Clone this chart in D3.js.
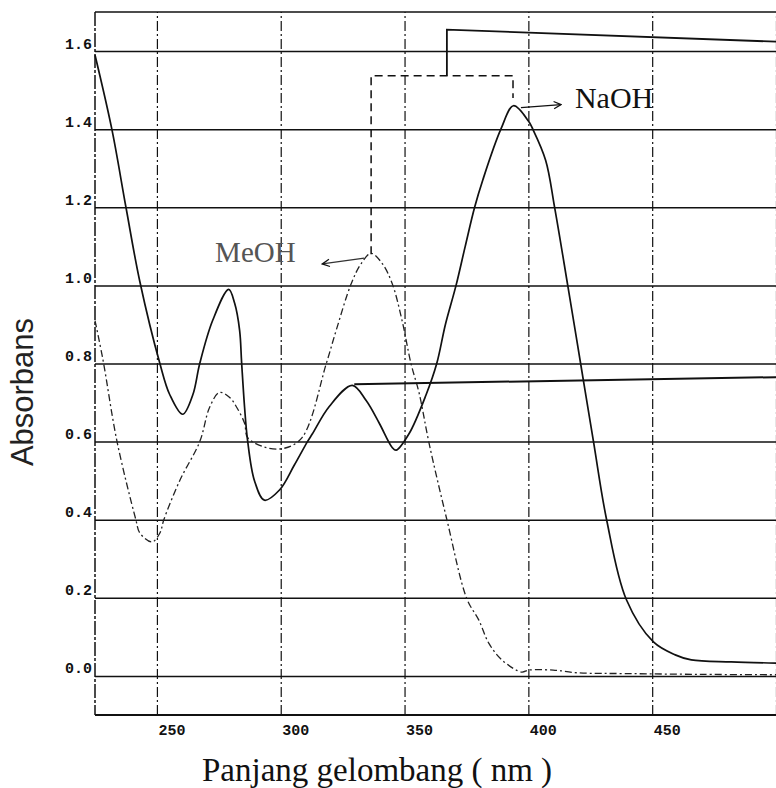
<!DOCTYPE html>
<html>
<head>
<meta charset="utf-8">
<script src="https://cdn.jsdelivr.net/npm/d3@7/dist/d3.min.js"></script>
<style>
  body { margin: 0; background: #fff; }
  svg { display: block; }
  .tick text { font-family: "Liberation Mono", "DejaVu Sans Mono", monospace; font-weight: bold; font-size: 15px; fill: #111; }
</style>
</head>
<body>
<div id="chart"></div>
<script>
// spectrum: wavelength (nm) and absorbance
const naohWave = [225, 231.8, 237.5, 243.1, 251.2, 255.2, 260.4, 264.5, 267.3, 272.5, 279, 281.4, 283.4, 284.2, 285.4, 286.6,
    289.4, 293.4, 299.5, 305.5, 310.8, 312.8, 319.6, 328.9, 334.5, 339.8, 345, 346.6, 351.8, 358.7, 363, 366.5, 370.8,
    374.5, 378.3, 381.6, 388.9, 394, 400.1, 401.8, 407, 410.6, 415.9, 421.1, 426.3, 431.6, 439.6, 450.5, 459.3, 465.8, 481.9, 500];
const naohAbs = [1.59, 1.40, 1.20, 1.01, 0.80, 0.72, 0.67, 0.72, 0.80, 0.91, 0.99, 0.954, 0.885, 0.803, 0.688, 0.604,
    0.50, 0.45, 0.476, 0.54, 0.60, 0.62, 0.69, 0.744, 0.705, 0.647, 0.585, 0.578, 0.62, 0.72, 0.80, 0.90, 1.00,
    1.10, 1.20, 1.27, 1.40, 1.46, 1.42, 1.40, 1.32, 1.20, 1.00, 0.80, 0.60, 0.40, 0.195, 0.087, 0.054, 0.041, 0.036, 0.033];

const meohWave = [225, 228.2, 233.9, 241.5, 243.1, 248, 251.2, 252.8, 259.2, 267.3, 271.3, 275.3, 279.4, 282.2, 285.4, 286.6,
    293.4, 301.5, 308.7, 318.4, 322.4, 328.5, 332.5, 336.5, 341, 345, 349, 352.6, 355.9, 359.9, 367.1, 375.2,
    380, 384, 389.3, 397.3, 400.1, 410, 420, 440, 470, 500];
const meohAbs = [0.91, 0.81, 0.60, 0.40, 0.366, 0.343, 0.366, 0.40, 0.50, 0.60, 0.688, 0.726, 0.713, 0.688, 0.647, 0.611,
    0.586, 0.583, 0.611, 0.80, 0.885, 1.005, 1.056, 1.082, 1.056, 1.005, 0.91, 0.80, 0.724, 0.596, 0.40, 0.197,
    0.143, 0.084, 0.041, 0.010, 0.015, 0.015, 0.008, 0.006, 0.004, 0.003];

// ticks
const yTicks = [0.0, 0.2, 0.4, 0.6, 0.8, 1.0, 1.2, 1.4, 1.6];
const xGrid = [250, 300, 350, 400, 450, 500];
const xLabels = [250, 300, 350, 400, 450];

// annotation strokes drawn on the scan (nm, absorbance)
const bracketDashed = [[336.5, 1.08], [336.5, 1.537], [393.8, 1.537], [393.8, 1.48]];
const bracketStem = [[367.1, 1.537], [367.1, 1.655], [500, 1.624]];
const shoulderLead = [[329.7, 0.747], [500, 0.765]];
const naohArrow = [[397, 1.455], [413.2, 1.463]];
const meohArrow = [[333.7, 1.07], [316.8, 1.055]];
const naohLabelAt = [418.8, 1.453];
const meohLabelAt = [273.5, 1.059];

var width = 776, height = 788;

var x = d3.scaleLinear().domain([225, 500]).range([95, 776]);
var y = d3.scaleLinear().domain([-0.1, 1.7]).range([715, 12]);

var svg = d3.select("#chart")
    .append("svg")
    .attr("width", width)
    .attr("height", height);

svg.append("rect").attr("width", width).attr("height", height).attr("fill", "#fff");

svg.append("defs").append("marker")
    .attr("id", "head")
    .attr("viewBox", "0 0 10 10")
    .attr("refX", 9).attr("refY", 5)
    .attr("markerWidth", 9).attr("markerHeight", 9)
    .attr("markerUnits", "userSpaceOnUse")
    .attr("orient", "auto")
    .append("path")
    .attr("d", "M1,1 L9,5 L1,9")
    .attr("fill", "none")
    .attr("stroke", "#111")
    .attr("stroke-width", 1.4);

// horizontal grid + y labels
var yAxis = svg.append("g")
    .attr("transform", `translate(${x.range()[0]},0)`)
    .call(d3.axisLeft(y).tickValues(yTicks).tickSize(-(x.range()[1] - x.range()[0])).tickPadding(3).tickFormat(d3.format(".1f")));
yAxis.select(".domain").remove();
yAxis.selectAll(".tick line").attr("stroke", "#111").attr("stroke-width", 1.5);
yAxis.selectAll(".tick text").attr("dy", -3);

// vertical grid + x labels
var xAxis = svg.append("g")
    .attr("transform", `translate(0,${y.range()[0]})`)
    .call(d3.axisBottom(x).tickValues(xGrid).tickSize(-(y.range()[0] - y.range()[1])).tickFormat(d => xLabels.includes(d) ? d : ""));
xAxis.select(".domain").remove();
xAxis.selectAll(".tick line").attr("stroke", "#111").attr("stroke-width", 1.2).attr("stroke-dasharray", "10,3,2,3");
xAxis.selectAll(".tick text").attr("text-anchor", "start").attr("x", 1).attr("y", 9);

// frame
var x0 = x.range()[0], x1 = x.range()[1], yT = y.range()[1], yB = y.range()[0];
svg.append("path").attr("d", `M${x0},${yT} L${x1},${yT}`).attr("stroke", "#111").attr("stroke-width", 1.6);
svg.append("path").attr("d", `M${x0},${yT} L${x0},${yB}`).attr("stroke", "#111").attr("stroke-width", 1.5).attr("stroke-dasharray", "14,2,3,2");
svg.append("path").attr("d", `M${x0},${yB} L${x1},${yB}`).attr("stroke", "#111").attr("stroke-width", 2.2);

var spectrum = d3.line()
    .x(d => x(d[0]))
    .y(d => y(d[1]))
    .curve(d3.curveCatmullRom.alpha(0.5));

svg.append("path")
    .datum(meohWave.map((w, i) => [w, meohAbs[i]]))
    .attr("d", spectrum)
    .attr("fill", "none")
    .attr("stroke", "#222")
    .attr("stroke-width", 1.3)
    .attr("stroke-dasharray", "7,3,2,3");

svg.append("path")
    .datum(naohWave.map((w, i) => [w, naohAbs[i]]))
    .attr("d", spectrum)
    .attr("fill", "none")
    .attr("stroke", "#111")
    .attr("stroke-width", 1.7);

// annotations
var straight = d3.line().x(d => x(d[0])).y(d => y(d[1]));

svg.append("path").datum(bracketDashed).attr("d", straight)
    .attr("fill", "none").attr("stroke", "#111").attr("stroke-width", 1.5).attr("stroke-dasharray", "8,5");
svg.append("path").datum(bracketStem).attr("d", straight)
    .attr("fill", "none").attr("stroke", "#111").attr("stroke-width", 1.8);
svg.append("path").datum(shoulderLead).attr("d", straight)
    .attr("fill", "none").attr("stroke", "#111").attr("stroke-width", 2);
svg.append("path").datum(naohArrow).attr("d", straight)
    .attr("fill", "none").attr("stroke", "#111").attr("stroke-width", 1.3).attr("marker-end", "url(#head)");
svg.append("path").datum(meohArrow).attr("d", straight)
    .attr("fill", "none").attr("stroke", "#333").attr("stroke-width", 1.3).attr("marker-end", "url(#head)");

svg.append("text")
    .attr("x", x(naohLabelAt[0])).attr("y", y(naohLabelAt[1]))
    .style("font-family", "'Liberation Serif', 'Times New Roman', serif")
    .style("font-size", "30px").style("fill", "#111")
    .text("NaOH");

svg.append("text")
    .attr("x", x(meohLabelAt[0])).attr("y", y(meohLabelAt[1]))
    .style("font-family", "'Liberation Serif', 'Times New Roman', serif")
    .style("font-size", "29px").style("fill", "#555")
    .text("MeOH");

// axis titles
svg.append("text")
    .attr("transform", "translate(33,392) rotate(-90)")
    .attr("text-anchor", "middle")
    .style("font-family", "'Liberation Sans', Arial, sans-serif")
    .style("font-size", "31px").style("fill", "#222")
    .text("Absorbans");

svg.append("text")
    .attr("x", 202).attr("y", 781)
    .style("font-family", "'Liberation Serif', 'Times New Roman', serif")
    .style("font-size", "33px").style("fill", "#111")
    .text("Panjang gelombang ( nm )");
</script>
</body>
</html>
